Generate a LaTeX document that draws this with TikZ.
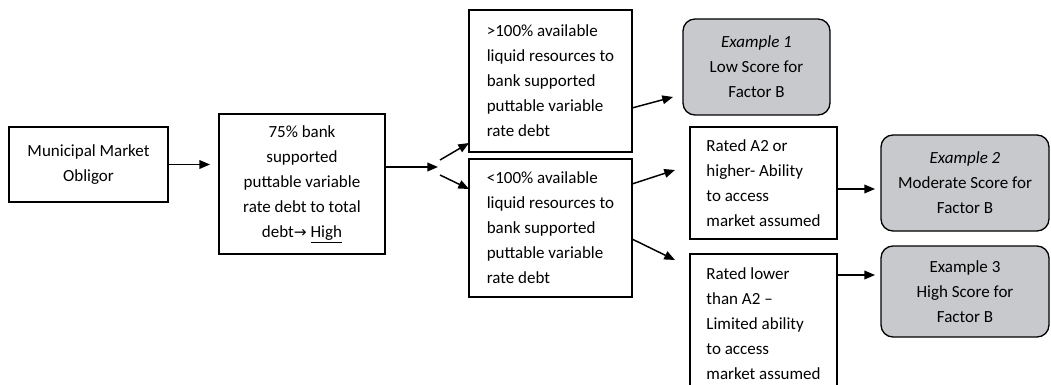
\documentclass[tikz,border=0pt]{standalone}
\usepackage{fontspec}
\setmainfont{Carlito}
\newfontfamily\symfont{DejaVu Sans}
\usetikzlibrary{arrows.meta,calc}
\definecolor{exgray}{RGB}{199,201,204}
\tikzset{
  box/.style={draw=black, line width=1pt, fill=white, inner sep=0pt, outer sep=0pt, align=left},
  cbox/.style={box, align=center},
  exbox/.style={draw=black, line width=1pt, fill=exgray, rounded corners=9pt, inner sep=0pt, outer sep=0pt, align=center},
  arr/.style={line width=1.1pt, -{Triangle[length=8pt,width=6.5pt]}}
}
\begin{document}
\begin{tikzpicture}[x=0.75pt,y=-0.75pt,font=\fontsize{12.75pt}{18.75pt}\selectfont]
\useasboundingbox (0,0) rectangle (1051,385);
\clip (0,0) rectangle (1051,385);
\node[anchor=base west, inner sep=0pt, font=\bfseries\fontsize{15.5pt}{18pt}\selectfont] (title) at (22,-5) {Scoring Result when Variable Rate Exposure is Higher};
\node[cbox, minimum width=119.25pt, minimum height=56.25pt] (A) at (88.5,164.5) {Municipal Market\\Obligor};
\node[cbox, minimum width=124.5pt, minimum height=105pt] (B) at (302,184) {75\% bank\\supported\\puttable variable\\rate debt to total\\debt{\symfont\fontsize{11.5pt}{11.5pt}\selectfont →} \underline{High}};
\node[box, minimum width=122.25pt, minimum height=106.5pt] (C) at (550.5,81) {>100\% available\\liquid resources to\\bank supported\\puttable variable\\rate debt};
\node[box, minimum width=122.25pt, minimum height=103.5pt] (D) at (550.5,228) {<100\% available\\liquid resources to\\bank supported\\puttable variable\\rate debt};
\node[box, minimum width=110.25pt, minimum height=84pt] (E) at (763.5,183) {Rated A2 or\\higher- Ability\\to access\\market assumed};
\node[box, minimum width=110.25pt, minimum height=104.25pt] (F) at (763.5,323.5) {Rated lower\\than A2 –\\Limited ability\\to access\\market assumed};
\node[exbox, minimum width=110.25pt, minimum height=72pt] (X1) at (756.5,67) {\textit{Example 1}\\Low Score for\\Factor B};
\node[exbox, minimum width=126pt, minimum height=72pt] (X2) at (965,183) {\textit{Example 2}\\Moderate Score for\\Factor B};
\node[exbox, minimum width=126pt, minimum height=68.25pt] (X3) at (965,291.5) {Example 3\\High Score for\\Factor B};
\coordinate (fork) at (438,167);
\coordinate (f1) at (440,160);
\coordinate (f2) at (440,175);
\draw[arr, shorten >=6.75pt] (A.east) -- (A.east -| B.west);
\draw[arr] (B.east |- fork) -- (fork);
\draw[arr] (f1) -- ($(C.south west)+(0,-9)$);
\draw[arr] (f2) -- ($(D.north west)+(0,30)$);
\draw[arr] ($(C.south east)+(0,-44)$) -- ($(X1.south west)+(-10,-18)$);
\draw[arr] ($(D.north east)+(0,25)$) -- ($(E.north west)+(-15,43)$);
\draw[arr] ($(D.north east)+(0,80)$) -- ($(F.north west)+(-15,6)$);
\draw[arr] ($(E.east)+(0,6)$) -- ($(X2.west)+(-6,6)$);
\draw[arr] ($(F.north east)+(0,21)$) -- ($(X3.north west)+(-6,29)$);
\end{tikzpicture}
\end{document}
